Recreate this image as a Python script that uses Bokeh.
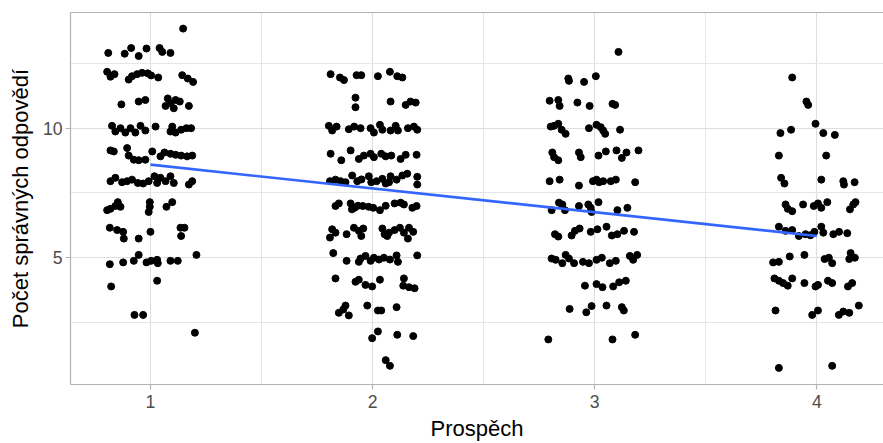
from bokeh.plotting import figure
from bokeh.models import Range1d, FixedTicker, LinearAxis, ColumnDataSource
from bokeh.embed import file_html
from bokeh.resources import INLINE

# ---- data (jittered points) ----
grade1_x = [1.147,
            0.81, 0.884, 0.913, 0.947, 0.982, 1.041, 1.053, 1.09,
            0.805, 0.82, 0.838, 0.902, 0.917, 0.94, 0.962, 0.988, 1.003, 1.035, 1.143, 1.168, 1.192,
            0.869, 0.947, 0.977, 1.078, 1.09, 1.113, 1.105, 1.132, 1.173, 1.068,
            0.827, 0.842, 0.865, 0.887, 0.91, 0.932, 0.955, 0.977, 1.023, 1.098, 1.113, 1.138, 1.162, 1.183, 1.09,
            0.82, 0.835, 0.895, 0.902, 0.925, 0.947, 0.977, 1.008, 1.045, 1.063, 1.09, 1.113, 1.138, 1.165, 1.188,
            0.82, 0.842, 0.872, 0.895, 0.917, 0.943, 0.967, 0.992, 1.018, 1.03, 1.045, 1.068, 1.09, 1.105, 1.173, 1.188,
            0.805, 0.82, 0.842, 0.853, 0.865, 0.997, 0.997, 0.992, 1.072, 1.098,
            0.817, 0.85, 0.877, 0.88, 0.947, 1.0, 1.135, 1.153, 1.138,
            0.817, 0.877, 0.925, 0.947, 0.982, 1.003, 1.03, 1.033, 1.09, 1.123, 1.207,
            0.823, 1.03,
            0.928, 0.967,
            1.2]
grade1_y = [13.85,
            12.91, 12.88, 13.10, 12.79, 13.08, 13.10, 12.95, 12.91,
            12.18, 11.99, 12.09, 11.88, 12.01, 12.09, 12.14, 12.12, 12.04, 11.96, 12.05, 11.92, 11.79,
            10.92, 11.03, 11.09, 11.15, 10.96, 11.09, 10.77, 11.03, 10.86, 10.86,
            10.09, 9.87, 10.0, 9.83, 10.0, 9.83, 10.09, 9.91, 10.06, 10.06, 9.83, 9.94, 10.0, 10.0, 9.87,
            9.14, 9.10, 9.23, 8.94, 8.78, 8.76, 8.78, 9.10, 8.91, 9.06, 9.01, 8.97, 8.94, 8.91, 8.94,
            7.95, 8.08, 7.91, 7.95, 8.01, 7.88, 7.86, 7.95, 8.14, 7.88, 8.08, 7.95, 8.14, 7.88, 7.82, 7.95,
            6.83, 6.88, 6.99, 7.14, 6.96, 7.14, 6.96, 6.76, 6.96, 7.14,
            6.15, 6.06, 5.99, 5.73, 5.73, 5.99, 6.15, 6.15, 5.83,
            4.74, 4.81, 4.87, 5.10, 4.81, 4.87, 4.91, 4.78, 4.87, 4.87, 5.10,
            3.88, 4.10,
            2.78, 2.78,
            2.09]

grade2_x = [1.811, 1.853, 1.871, 1.928, 1.949, 2.024, 2.078, 2.111, 2.134,
            1.923, 1.923, 2.081, 2.149, 2.171, 2.194,
            1.803, 1.818, 1.838, 1.893, 1.917, 1.946, 1.991, 2.006, 2.033, 2.044, 2.081, 2.104, 2.114, 2.159, 2.186, 2.201,
            1.811, 1.859, 1.901, 1.938, 1.961, 1.991, 2.006, 2.039, 2.059, 2.084, 2.126, 2.149, 2.198,
            1.808, 1.833, 1.856, 1.878, 1.908, 1.931, 1.983, 1.994, 2.018, 2.044, 2.059, 2.081, 2.108, 2.134, 2.156, 2.201, 2.201, 2.074, 1.95,
            1.833, 1.848, 1.901, 1.919, 1.934, 1.956, 1.982, 2.003, 2.033, 2.059, 2.099, 2.126, 2.141, 2.179, 2.198, 1.907,
            1.808, 1.818, 1.833, 1.883, 1.916, 1.938, 1.949, 1.958, 2.044, 2.054, 2.074, 2.099, 2.123, 2.141, 2.159, 2.164, 2.183, 2.066,
            1.823, 1.883, 1.938, 1.946, 1.968, 1.991, 2.006, 2.029, 2.051, 2.078, 2.108, 2.114, 2.201,
            1.833, 1.923, 1.938, 1.968, 1.998, 2.033, 2.141, 2.138, 2.164, 2.189,
            1.848, 1.878, 1.893, 1.868, 1.976, 2.024, 2.039, 2.108,
            2.024, 1.998, 2.111, 2.183,
            2.059, 2.078]
grade2_y = [12.09, 11.96, 11.86, 12.05, 12.05, 12.01, 12.18, 12.01, 11.96,
            11.18, 10.81, 11.03, 10.90, 11.03, 10.99,
            10.09, 9.91, 10.06, 9.96, 10.06, 10.0, 10.0, 9.83, 10.13, 9.94, 9.91, 10.09, 9.91, 10.0, 10.06, 9.94,
            9.01, 8.76, 9.14, 8.81, 8.94, 9.01, 8.88, 9.01, 8.91, 8.94, 8.81, 8.97, 8.97,
            7.95, 8.01, 7.95, 7.91, 8.17, 7.95, 8.14, 7.91, 7.95, 8.04, 7.86, 8.14, 8.01, 8.17, 8.24, 8.12, 7.82, 7.91, 8.02,
            6.99, 7.09, 7.09, 6.92, 7.0, 6.99, 6.96, 6.92, 6.83, 7.0, 7.09, 7.12, 7.05, 6.92, 6.99, 6.86,
            5.77, 6.09, 5.96, 5.90, 6.15, 6.03, 5.83, 6.12, 6.12, 5.90, 5.96, 6.06, 6.15, 5.96, 5.73, 6.15, 5.99, 5.83,
            5.17, 4.87, 4.83, 4.96, 5.06, 4.87, 4.99, 4.92, 4.99, 4.92, 5.08, 4.83, 5.08,
            4.19, 4.06, 4.14, 3.94, 3.88, 4.14, 4.19, 3.91, 3.85, 3.81,
            2.86, 3.14, 2.76, 2.99, 3.14, 2.95, 2.95, 3.08,
            2.14, 1.88, 2.01, 1.96,
            1.03, 0.81]

grade3_x = [3.107,
            2.881, 2.884, 2.952, 3.005,
            2.797, 2.836, 2.842, 2.922, 2.977, 3.08, 3.092,
            2.802, 2.817, 2.836, 2.851, 2.869, 2.974, 3.008, 3.027, 3.038, 3.047, 3.114,
            2.809, 2.817, 2.836, 2.929, 2.937, 3.017, 3.05, 3.098, 3.122, 3.143, 3.197,
            2.797, 2.842, 2.929, 2.992, 3.008, 3.02, 3.038, 3.072, 3.095, 3.182,
            2.806, 2.839, 2.854, 2.866, 2.929, 2.971, 2.982, 2.986, 3.017, 3.102, 3.147,
            2.821, 2.836, 2.896, 2.911, 2.932, 2.982, 3.012, 3.053, 3.077, 3.102, 3.132, 3.177,
            2.806, 2.824, 2.854, 2.869, 2.884, 2.907, 2.947, 2.974, 3.008, 3.032, 3.068, 3.095, 3.158, 3.173, 3.191,
            2.956, 3.008, 3.035, 3.083, 3.11, 3.14,
            2.887, 2.962, 2.986, 3.053, 3.122, 3.131,
            2.791, 3.08, 3.182]
grade3_y = [12.95,
            11.92, 11.83, 11.79, 12.01,
            11.06, 11.09, 10.86, 10.99, 10.86, 10.94, 10.90,
            10.06, 10.09, 10.17, 9.94, 9.78, 10.0, 10.13, 10.04, 9.91, 9.78, 9.94,
            9.06, 8.88, 8.76, 9.06, 8.88, 8.94, 9.10, 9.14, 8.85, 9.06, 9.14,
            7.95, 8.01, 7.78, 7.95, 8.01, 7.91, 7.95, 7.95, 8.01, 7.91,
            6.83, 7.12, 7.05, 6.83, 6.99, 7.05, 6.92, 6.76, 7.14, 6.83, 6.92,
            5.90, 5.81, 5.85, 6.03, 6.12, 5.99, 6.09, 6.19, 5.85, 5.90, 6.03, 5.99,
            4.96, 4.91, 4.78, 5.10, 4.96, 4.78, 4.83, 4.78, 4.91, 4.99, 4.78, 4.87, 5.06, 4.91, 5.10,
            3.91, 3.97, 3.85, 3.88, 4.04, 4.10,
            3.01, 2.88, 3.12, 3.14, 3.08, 2.95,
            1.83, 1.83, 2.01]

grade4_x = [3.889, 3.953, 3.961, 3.994, 3.836, 3.884, 4.029, 4.081, 3.829, 4.042,
            3.839, 3.854, 4.02, 4.119, 4.122, 4.17,
            3.859, 3.869, 3.889, 3.938, 3.986, 4.005, 4.02, 4.047, 4.149, 4.164, 4.174,
            3.829, 3.859, 3.889, 3.919, 3.949, 3.971, 3.989, 4.02, 4.029, 4.074, 4.1, 4.137,
            3.803, 3.829, 3.878, 3.944, 4.035, 4.054, 4.069, 4.152, 4.146, 4.171,
            3.809, 3.829, 3.848, 3.869, 3.889, 3.944, 3.994, 4.005, 4.05, 4.069, 4.14, 4.159,
            3.814, 3.979, 4.005, 4.099, 4.119, 4.146, 4.189,
            3.829, 4.069]
grade4_y = [11.96, 11.03, 10.90, 10.17, 9.81, 9.94, 9.81, 9.74, 8.94, 8.94,
            8.08, 7.86, 8.01, 7.95, 7.82, 7.91,
            7.05, 6.88, 6.79, 7.05, 6.99, 7.09, 6.92, 7.14, 6.86, 7.05, 7.14,
            6.19, 6.03, 6.06, 5.83, 5.90, 5.86, 5.99, 6.19, 5.96, 5.90, 5.99, 5.94,
            4.81, 4.83, 5.04, 5.10, 4.94, 4.99, 4.78, 5.17, 4.94, 4.99,
            4.19, 4.10, 4.01, 3.91, 4.19, 4.01, 3.88, 3.94, 4.10, 4.01, 3.88, 4.01,
            2.95, 2.78, 2.95, 2.78, 2.91, 2.86, 3.14,
            0.73, 0.81]

fit_x = [1, 4]
fit_y = [8.59, 5.83]

x_ticks = [1, 2, 3, 4]
x_minor = [1.5, 2.5, 3.5]
y_ticks = [5, 10]
y_minor = [2.5, 7.5, 12.5]

x_title = "Prospěch"
y_title = "Počet správných odpovědí"

# ---- figure ----
FONT = "Liberation Sans"
BORDER = "#B3B3B3"
GRID = "#DEDEDE"

p = figure(width=883, height=443, output_backend="svg", toolbar_location=None,
           x_range=Range1d(0.64, 4.30), y_range=Range1d(0.088, 14.473),
           min_border_left=70, min_border_right=0, min_border_top=12, min_border_bottom=57,
           x_axis_label=x_title, y_axis_label=y_title)
p.outline_line_color = None
p.background_fill_color = "white"
p.border_fill_color = "white"

all_x = grade1_x + grade2_x + grade3_x + grade4_x
all_y = grade1_y + grade2_y + grade3_y + grade4_y
src = ColumnDataSource(dict(x=all_x, y=all_y))
p.scatter("x", "y", source=src, size=7, color="black")
p.line(fit_x, fit_y, line_color="#3366FF", line_width=2.6)

p.xaxis.ticker = FixedTicker(ticks=x_ticks, minor_ticks=x_minor)
p.yaxis.ticker = FixedTicker(ticks=y_ticks, minor_ticks=y_minor)

for ax in (p.xaxis[0], p.yaxis[0]):
    ax.axis_line_color = BORDER
    ax.axis_line_width = 1.2
    ax.major_tick_line_color = BORDER
    ax.major_tick_line_width = 1.2
    ax.major_tick_out = 5
    ax.major_tick_in = 0
    ax.minor_tick_line_color = None
    ax.major_label_text_font = FONT
    ax.major_label_text_font_size = "17.6px"
    ax.major_label_text_color = "#4D4D4D"
    ax.axis_label_text_font = FONT
    ax.axis_label_text_font_size = "22px"
    ax.axis_label_text_font_style = "normal"
    ax.axis_label_text_color = "#000000"

p.xaxis.major_label_standoff = 5
p.xaxis.axis_label_standoff = 5
p.yaxis.major_label_standoff = 3
p.yaxis.axis_label_standoff = 7

top = LinearAxis(ticker=FixedTicker(ticks=[]), axis_line_color=BORDER, axis_line_width=1.2,
                 major_tick_line_color=None, minor_tick_line_color=None,
                 major_tick_out=0, minor_tick_out=0, major_label_standoff=0,
                 major_label_text_font_size="0px")
p.add_layout(top, "above")

p.xgrid.grid_line_color = GRID
p.ygrid.grid_line_color = GRID
p.xgrid.grid_line_width = 1.1
p.ygrid.grid_line_width = 1.1
p.xgrid.minor_grid_line_color = "#E6E6E6"
p.ygrid.minor_grid_line_color = "#E6E6E6"
p.xgrid.minor_grid_line_width = 1
p.ygrid.minor_grid_line_width = 1

open("out.html", "w").write(file_html(p, INLINE))
